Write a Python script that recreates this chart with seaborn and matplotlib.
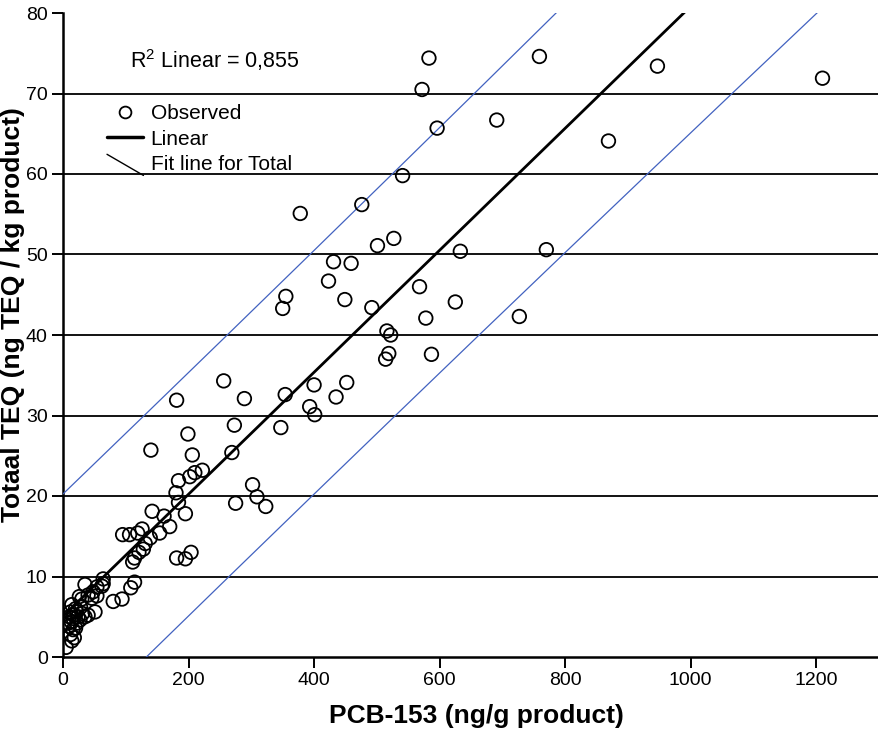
import numpy as np
import pandas as pd
import matplotlib
matplotlib.use("Agg")
import matplotlib.pyplot as plt
import seaborn as sns
from matplotlib.lines import Line2D
from matplotlib.legend_handler import HandlerBase

# PCB-153 (ng/g product) en Totaal TEQ (ng TEQ / kg product)
pcb153 = [583, 759, 947, 1210, 869, 572, 596, 691, 541, 476, 378, 501, 527, 633, 770,
          431, 459, 423, 355, 350, 449, 492, 568, 625, 578, 727, 516, 522, 519, 514,
          587, 400, 452, 393, 435, 401, 354, 347,
          289, 256, 181, 273, 199, 140, 206, 269, 222, 210, 202, 184, 180, 184, 302,
          309, 323, 275, 195, 142, 161, 170, 154, 126, 119, 95, 106, 139, 131, 128,
          121, 114, 111, 181, 195, 204, 114, 108, 80, 94,
          64, 64, 62, 54, 48, 40, 46, 54, 51, 40, 35, 31, 26, 35, 30,
          5, 14, 18, 12, 16, 10, 20, 13, 22, 10, 17, 24, 12, 20, 28, 16, 22, 27, 8, 14]
teq = [74.4, 74.6, 73.4, 71.9, 64.1, 70.5, 65.7, 66.7, 59.8, 56.2, 55.1, 51.1, 52.0, 50.4, 50.6,
       49.1, 48.9, 46.7, 44.8, 43.3, 44.4, 43.4, 46.0, 44.1, 42.1, 42.3, 40.5, 40.0, 37.7, 37.0,
       37.6, 33.8, 34.1, 31.1, 32.3, 30.1, 32.6, 28.5,
       32.1, 34.3, 31.9, 28.8, 27.7, 25.7, 25.1, 25.4, 23.2, 22.9, 22.4, 21.9, 20.4, 19.2, 21.4,
       19.9, 18.7, 19.1, 17.8, 18.1, 17.5, 16.2, 15.4, 15.9, 15.4, 15.2, 15.2, 14.8, 14.1, 13.4,
       13.0, 12.3, 11.8, 12.3, 12.2, 13.0, 9.3, 8.6, 6.9, 7.2,
       9.7, 9.1, 8.8, 8.7, 8.1, 7.7, 7.3, 7.6, 5.6, 5.2, 5.0, 5.4, 7.5, 9.0, 7.2,
       1.2, 2.0, 2.4, 2.8, 3.4, 3.8, 3.6, 4.4, 4.2, 5.0, 5.2, 5.0, 5.6, 6.0, 6.2, 4.8, 5.6, 4.6, 4.2, 6.5]

x_ticks = [0, 200, 400, 600, 800, 1000, 1200]
y_ticks = [0, 10, 20, 30, 40, 50, 60, 70, 80]
r2_text = "R$^2$ Linear = 0,855"
legend_labels = ["Observed", "Linear", "Fit line for Total"]

df = pd.DataFrame({"PCB153": pcb153, "TEQ": teq})

# lineaire fit + 95% voorspellingsinterval
x = df["PCB153"].to_numpy(float)
y = df["TEQ"].to_numpy(float)
n = len(x)
slope, intercept = np.polyfit(x, y, 1)
resid = y - (intercept + slope * x)
s = np.sqrt((resid ** 2).sum() / (n - 2))
sxx = ((x - x.mean()) ** 2).sum()
xs = np.linspace(0, 1300, 300)
yhat = intercept + slope * xs
half = 2.03 * s * np.sqrt(1 + 1 / n + (xs - x.mean()) ** 2 / sxx)

sns.set_style("white")
plt.rcParams["font.family"] = ["Liberation Sans", "DejaVu Sans"]
plt.rcParams["mathtext.fontset"] = "custom"
plt.rcParams["mathtext.rm"] = "Liberation Sans"
plt.rcParams["text.color"] = "black"
plt.rcParams["axes.labelcolor"] = "black"

fig = plt.figure(figsize=(8.79, 7.36), dpi=100)
ax = fig.add_axes([63 / 879, 1 - 657 / 736, 816 / 879, 644 / 736])

for t in y_ticks[1:-1]:
    ax.axhline(t, color="black", lw=1.3, zorder=2)

blue = "#4262C0"
ax.plot(xs, yhat + half, color=blue, lw=0.9, zorder=3)
ax.plot(xs, yhat - half, color=blue, lw=0.9, zorder=3)
ax.plot(xs, yhat, color="black", lw=2.0, zorder=4)

sns.scatterplot(data=df, x="PCB153", y="TEQ", ax=ax, s=95, facecolor="none",
                edgecolor="black", linewidth=1.3, zorder=5, legend=False)

ax.set_xlim(0, 1300)
ax.set_ylim(0, 80)
ax.set_xticks(x_ticks)
ax.set_yticks(y_ticks)
ax.tick_params(direction="out", length=8, width=1.4, labelsize=14, pad=3,
               bottom=True, left=True, colors="black")
for side in ["top", "right"]:
    ax.spines[side].set_visible(False)
for side in ["left", "bottom"]:
    ax.spines[side].set_linewidth(1.8)
    ax.spines[side].set_color("black")

ax.set_xlabel("PCB-153 (ng/g product)", fontsize=19, fontweight="bold")
ax.set_ylabel("Totaal TEQ (ng TEQ / kg product)", fontsize=19, fontweight="bold")
ax.xaxis.set_label_coords((476 - 63) / 816, (657 - 704) / 644)
ax.yaxis.set_label_coords((25 - 63) / 816, (657 - 315) / 644)

ax.text((130 - 63) / 816, (657 - 60) / 644, r2_text, transform=ax.transAxes,
        fontsize=15.5, va="center", ha="left")


class DiagHandler(HandlerBase):
    def create_artists(self, legend, orig_handle, xdescent, ydescent, width, height,
                       fontsize, trans):
        line = Line2D([-xdescent, -xdescent + width], [height * 1.1, -height * 0.35],
                      color="black", lw=1.0, transform=trans)
        return [line]


handles = [Line2D([], [], ls="none", marker="o", markerfacecolor="none",
                  markeredgecolor="black", markersize=8.5, markeredgewidth=1.3),
           Line2D([], [], color="black", lw=2.5),
           Line2D([], [], color="black", lw=1.0)]
leg = ax.legend(handles, legend_labels, loc="upper left",
                bbox_to_anchor=((107 - 63) / 816, (657 - 104) / 644),
                frameon=False, fontsize=15, handlelength=1.75, handletextpad=0.35,
                labelspacing=0.32, borderpad=0, borderaxespad=0,
                handler_map={handles[2]: DiagHandler()})
leg.set_zorder(1)

fig.savefig("out.png", dpi=100)
